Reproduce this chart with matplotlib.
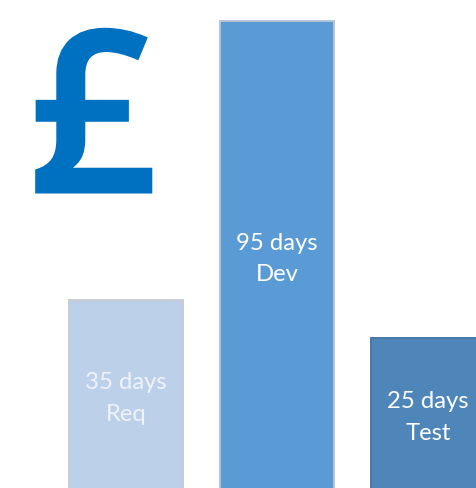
import matplotlib
matplotlib.use("Agg")
import matplotlib.pyplot as plt
import matplotlib.patheffects as pe

stages = ["Req", "Dev", "Test"]
days = [35, 95, 25]
bar_heights = [198, 477, 160]

fill_colors = ["#BDD0E9", "#5B9BD5", "#4F86B9"]
edge_colors = ["#C9CCD2", "#B4C4D6", "#4679A8"]
text_colors = ["#EEF3FA", "#FFFFFF", "#FFFFFF"]

W, H = 476, 488
fig = plt.figure(figsize=(W / 100, H / 100), dpi=100, facecolor="white")
ax = fig.add_axes([0, 0, 1, 1])
ax.set_xlim(-126 / 151, (W - 126) / 151)
ax.set_ylim(10, H + 10)
ax.axis("off")

xs = list(range(len(stages)))
ax.bar(xs, bar_heights, width=114 / 151, color=fill_colors,
       edgecolor=edge_colors, linewidth=1.4, zorder=2)

label_centres = {0: 89.5, 1: 229, 2: 70.5}
for x, d, s, tc in zip(xs, days, stages, text_colors):
    ax.text(x, 10 + label_centres[x], f"{d} days\n{s}", color=tc,
            ha="center", va="center", fontsize=17.2, family="Lato",
            linespacing=1.62, zorder=3)

fig.text(93 / W, 1 - 192 / H, "£", color="#0070C0", ha="center", va="baseline",
         fontsize=162, family="Open Sans", weight="semibold",
         path_effects=[pe.withStroke(linewidth=2.2, foreground="#0070C0", joinstyle="miter")])

fig.savefig("out.png", dpi=100, facecolor="white")
